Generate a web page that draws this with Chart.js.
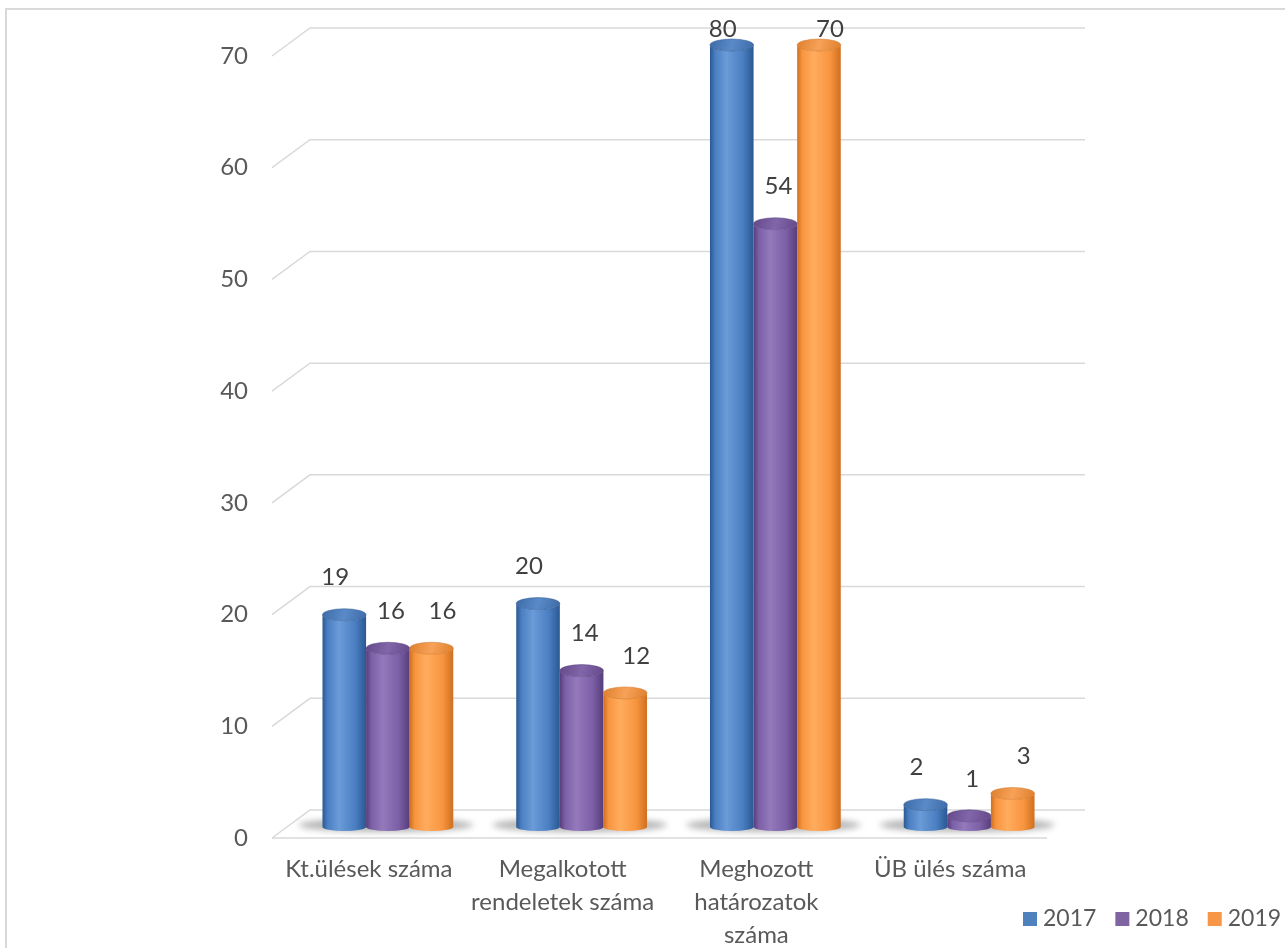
<!DOCTYPE html>
<html>
<head>
<meta charset="utf-8">
<script src="https://cdn.jsdelivr.net/npm/chart.js@4/dist/chart.umd.min.js"></script>
<style>
  html, body { margin: 0; padding: 0; background: #fff; overflow: hidden; }
  #frame { position: absolute; left: 5px; top: 8px; width: 1400px; height: 1100px;
           border: 2px solid #d9d9d9; box-sizing: border-box; }
  #c { position: absolute; left: 0; top: 0; }
</style>
</head>
<body>
<div id="frame"></div>
<canvas id="c" width="1285" height="948"></canvas>
<script>
// Category labels (wrapped as in the printed table of the report)
const categories = [
  ['Kt.ülések száma'],
  ['Megalkotott', 'rendeletek száma'],
  ['Meghozott', 'határozatok', 'száma'],
  ['ÜB ülés száma']
];
const years = ['2017', '2018', '2019'];
const values2017 = [19, 20, 80, 2];
const values2018 = [16, 14, 54, 1];
const values2019 = [16, 12, 70, 3];
const yMin = 0, yMax = 70, yStep = 10;

const FONT = 'Lato, "Open Sans", sans-serif';
const seriesColors = ['#4F81BD', '#8064A2', '#F79646'];
const shades = [
  { edge: '#2b5892', light: '#6b9bd8', mid: '#4a7fc2', top: '#3e6ba8', topLight: '#5a8ac8' },
  { edge: '#563d7b', light: '#9479bb', mid: '#7c5fa6', top: '#634889', topLight: '#8266aa' },
  { edge: '#cf7020', light: '#ffac5e', mid: '#f8953f', top: '#dd7f2e', topLight: '#f7a257' }
];

// pseudo-3D box geometry
const DEPTH = 19;       // horizontal shift between middle plane and back / front planes
const RISE_BACK = 17;   // back wall sits this far above the bar plane
const DROP_FRONT = 11;  // front edge sits this far below the bar plane

const wallPlugin = {
  id: 'wall',
  beforeDatasetsDraw(chart) {
    const { ctx, chartArea: a, scales: { y } } = chart;
    ctx.save();
    ctx.strokeStyle = '#d9d9d9';
    ctx.lineWidth = 1.5;
    y.ticks.forEach(t => {
      const p = y.getPixelForValue(t.value);
      const yb = p - RISE_BACK, yf = p + DROP_FRONT;
      ctx.beginPath();
      ctx.moveTo(a.left - DEPTH, yf);
      ctx.lineTo(a.left + DEPTH, yb);
      ctx.lineTo(a.right + DEPTH, yb);
      ctx.stroke();
    });
    const p0 = y.getPixelForValue(0) + DROP_FRONT;
    ctx.beginPath();
    ctx.moveTo(a.left - DEPTH, p0);
    ctx.lineTo(a.right - DEPTH, p0);
    ctx.stroke();

    // soft floor shadows under each group of cylinders
    const metas = chart.data.datasets.map((d, i) => chart.getDatasetMeta(i));
    const base = y.getPixelForValue(0);
    ctx.filter = 'blur(3px)';
    ctx.fillStyle = 'rgba(80,80,80,0.42)';
    chart.data.labels.forEach((l, i) => {
      const first = metas[0].data[i], last = metas[metas.length - 1].data[i];
      const x0 = first.x - first.width / 2 - 24, x1 = last.x + last.width / 2 + 20;
      ctx.beginPath();
      ctx.ellipse((x0 + x1) / 2, base - 2, (x1 - x0) / 2, 7, 0, 0, Math.PI * 2);
      ctx.fill();
    });
    ctx.filter = 'none';
    ctx.restore();
  }
};

function drawCylinder(ctx, x, w, top, base, s) {
  const rx = w / 2, ry = 6, rb = 4;
  const g = ctx.createLinearGradient(x - rx, 0, x + rx, 0);
  g.addColorStop(0, s.edge);
  g.addColorStop(0.12, s.mid);
  g.addColorStop(0.38, s.light);
  g.addColorStop(0.75, s.mid);
  g.addColorStop(1, s.edge);
  ctx.beginPath();
  ctx.moveTo(x - rx, top);
  ctx.lineTo(x - rx, base);
  ctx.ellipse(x, base, rx, rb, 0, Math.PI, 0, true);
  ctx.lineTo(x + rx, top);
  ctx.ellipse(x, top, rx, ry, 0, 0, Math.PI, false);
  ctx.closePath();
  ctx.fillStyle = g;
  ctx.fill();
  const tg = ctx.createLinearGradient(x - rx, top - ry, x + rx, top + ry);
  tg.addColorStop(0, s.top);
  tg.addColorStop(0.5, s.topLight);
  tg.addColorStop(1, s.top);
  ctx.beginPath();
  ctx.ellipse(x, top, rx, ry, 0, 0, Math.PI * 2);
  ctx.fillStyle = tg;
  ctx.fill();
  ctx.strokeStyle = s.edge;
  ctx.globalAlpha = 0.5;
  ctx.lineWidth = 1;
  ctx.stroke();
  ctx.globalAlpha = 1;
}

const cylinderPlugin = {
  id: 'cylinders',
  beforeDatasetDraw() { return false; },
  afterDatasetsDraw(chart) {
    const { ctx, chartArea: a, scales: { y } } = chart;
    ctx.save();
    chart.data.labels.forEach((l, i) => {
      chart.data.datasets.forEach((ds, d) => {
        const el = chart.getDatasetMeta(d).data[i];
        const top = Math.max(el.y, a.top);
        drawCylinder(ctx, el.x, el.width, top, el.base, shades[d]);
      });
    });
    // value labels
    const dx = [-9, 3, 11];
    ctx.font = '24px ' + FONT;
    ctx.fillStyle = '#404040';
    ctx.textAlign = 'center';
    ctx.textBaseline = 'middle';
    chart.data.datasets.forEach((ds, d) => {
      const meta = chart.getDatasetMeta(d);
      ds.data.forEach((v, i) => {
        const el = meta.data[i];
        const ty = Math.max(y.getPixelForValue(v) - 37, 29);
        ctx.fillText(String(v), el.x + dx[d], ty);
      });
    });
    ctx.restore();
  }
};

const legendPlugin = {
  id: 'cornerLegend',
  afterDraw(chart) {
    const ctx = chart.ctx;
    ctx.save();
    ctx.font = '23px ' + FONT;
    ctx.textBaseline = 'middle';
    ctx.textAlign = 'left';
    let x = 1023;
    const cy = 919;
    chart.data.datasets.forEach((ds, d) => {
      ctx.fillStyle = seriesColors[d];
      ctx.fillRect(x, cy - 7, 14, 14);
      ctx.fillStyle = '#595959';
      ctx.fillText(ds.label, x + 20, cy);
      x += 20 + ctx.measureText(ds.label).width + 19;
    });
    ctx.restore();
  }
};

new Chart(document.getElementById('c'), {
  type: 'bar',
  data: {
    labels: categories,
    datasets: [
      { label: years[0], data: values2017, backgroundColor: seriesColors[0] },
      { label: years[1], data: values2018, backgroundColor: seriesColors[1] },
      { label: years[2], data: values2019, backgroundColor: seriesColors[2] }
    ]
  },
  options: {
    responsive: false,
    animation: false,
    layout: { padding: { left: 0, top: 45, right: 219, bottom: 0 } },
    datasets: { bar: { categoryPercentage: 0.675, barPercentage: 1 } },
    plugins: { legend: { display: false }, tooltip: { enabled: false } },
    scales: {
      x: {
        grid: { display: false, drawTicks: false },
        border: { display: false },
        ticks: {
          color: '#595959',
          font: { family: FONT, size: 24, lineHeight: 1.375 },
          padding: 26,
          labelOffset: -19,
          maxRotation: 0,
          autoSkip: false
        },
        afterFit(scale) {
          scale.height = 121;
          scale.paddingLeft = 0;
          scale.paddingRight = 0;
        }
      },
      y: {
        min: yMin, max: yMax,
        grid: { display: false, drawTicks: false },
        border: { display: false },
        ticks: {
          stepSize: yStep,
          color: '#595959',
          font: { family: FONT, size: 24 },
          padding: 43,
          labelOffset: 11
        },
        afterFit(scale) {
          scale.width = 291;
          scale.paddingTop = 0;
          scale.paddingBottom = 0;
        }
      }
    }
  },
  plugins: [wallPlugin, cylinderPlugin, legendPlugin]
});
</script>
</body>
</html>
